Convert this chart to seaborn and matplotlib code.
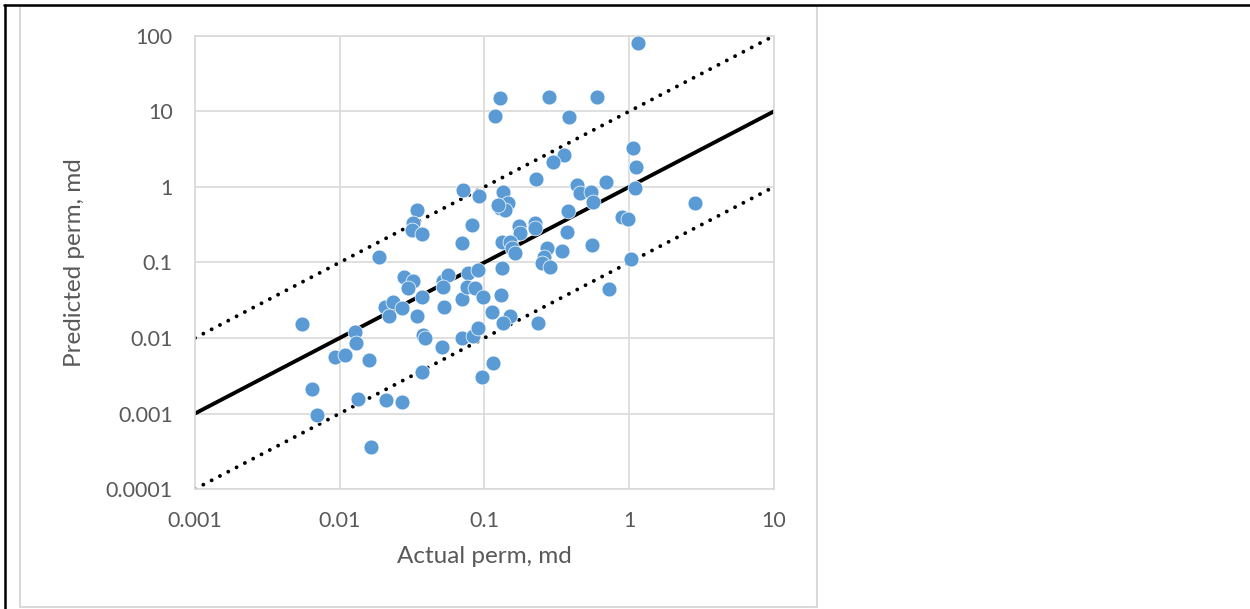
import numpy as np
import pandas as pd
import seaborn as sns
import matplotlib.pyplot as plt
from matplotlib.lines import Line2D
from matplotlib.patches import Rectangle

actual = [1.15, 0.128, 0.279, 0.60, 0.118, 0.384, 1.06, 0.354, 0.297, 1.11,
          0.227, 0.69, 0.436, 1.10, 0.071, 0.457, 0.545, 0.134, 0.092, 0.562,
          0.145, 0.128, 0.139, 0.124, 0.034, 0.378, 2.85, 0.89, 0.98, 0.082,
          0.032, 0.0316, 0.037, 0.223, 0.223, 0.173, 0.176, 0.37, 0.070, 0.132,
          0.150, 0.155, 0.163, 0.27, 0.343, 0.553, 0.26, 0.25, 0.284, 0.0187,
          1.03, 0.028, 0.032, 0.0296, 0.037, 0.0517, 0.056, 0.0517, 0.053, 0.070,
          0.077, 0.076, 0.086, 0.090, 0.098, 0.132, 0.130, 0.113, 0.150, 0.134,
          0.234, 0.724, 0.0206, 0.0233, 0.027, 0.022, 0.034, 0.0055, 0.0127, 0.013,
          0.0376, 0.039, 0.070, 0.083, 0.090, 0.051, 0.0093, 0.0109, 0.0159, 0.037,
          0.1145, 0.096, 0.0064, 0.0070, 0.0134, 0.0209, 0.0269, 0.0164]
predicted = [80.8, 15.1, 15.6, 15.6, 8.7, 8.46, 3.29, 2.65, 2.14, 1.84,
             1.28, 1.17, 1.06, 0.97, 0.91, 0.83, 0.86, 0.86, 0.76, 0.63,
             0.61, 0.53, 0.50, 0.58, 0.50, 0.48, 0.61, 0.40, 0.38, 0.31,
             0.33, 0.27, 0.24, 0.333, 0.286, 0.30, 0.246, 0.25, 0.18, 0.187,
             0.187, 0.156, 0.134, 0.156, 0.142, 0.17, 0.118, 0.0985, 0.087, 0.118,
             0.111, 0.064, 0.057, 0.046, 0.035, 0.057, 0.068, 0.047, 0.026, 0.033,
             0.073, 0.047, 0.046, 0.080, 0.035, 0.0845, 0.037, 0.022, 0.0195, 0.0158,
             0.016, 0.045, 0.026, 0.030, 0.025, 0.0195, 0.0195, 0.0153, 0.012, 0.0086,
             0.011, 0.010, 0.010, 0.0105, 0.0135, 0.0076, 0.0056, 0.006, 0.0051, 0.0035,
             0.0047, 0.0030, 0.0021, 0.00096, 0.00156, 0.0015, 0.00142, 0.00036]

# 1:1 line and factor-of-ten band
line_x = [0.001, 10]
line_equal = [0.001, 10]
line_upper = [0.01, 100]
line_lower = [0.0001, 1]

x_ticks = [0.001, 0.01, 0.1, 1, 10]
x_labels = ['0.001', '0.01', '0.1', '1', '10']
y_ticks = [0.0001, 0.001, 0.01, 0.1, 1, 10, 100]
y_labels = ['0.0001', '0.001', '0.01', '0.1', '1', '10', '100']

sns.set_style('white')
plt.rcParams['font.family'] = ['Lato', 'DejaVu Sans']

fig = plt.figure(figsize=(12.5, 6.09), dpi=100)
ax = fig.add_axes([0.156, 0.197, 0.463, 0.744])
ax.set_xscale('log')
ax.set_yscale('log')

sns.lineplot(x=line_x, y=line_upper, ax=ax, color='black', linewidth=2.8,
             linestyle=(0, (0.01, 2.4)), dash_capstyle='round', zorder=2)
sns.lineplot(x=line_x, y=line_lower, ax=ax, color='black', linewidth=2.8,
             linestyle=(0, (0.01, 2.4)), dash_capstyle='round', zorder=2)
sns.lineplot(x=line_x, y=line_equal, ax=ax, color='black', linewidth=2.8, zorder=2)
sns.scatterplot(x=actual, y=predicted, ax=ax, color='#5B9BD5', s=115,
                edgecolor='white', linewidth=0.5, zorder=3)

ax.set_xlim(0.001, 10)
ax.set_ylim(0.0001, 100)
ax.set_xticks(x_ticks)
ax.set_xticklabels(x_labels)
ax.set_yticks(y_ticks)
ax.set_yticklabels(y_labels)
ax.minorticks_off()
ax.tick_params(length=0, labelsize=15.5, labelcolor='#595959')
ax.tick_params(axis='x', pad=16)
ax.tick_params(axis='y', pad=16)
ax.grid(True, color='#D9D9D9', linewidth=1.2)
for sp in ax.spines.values():
    sp.set_color('#D9D9D9')
    sp.set_linewidth(1.2)

ax.set_xlabel('Actual perm, md', fontsize=17.5, color='#595959')
ax.set_ylabel('Predicted perm, md', fontsize=17.5, color='#595959')
ax.xaxis.set_label_coords(0.5, -0.125)
ax.yaxis.set_label_coords(-0.19, 0.5)

# chart frame and the page border
fig.patches.append(Rectangle((20 / 1250, 2 / 609), 797 / 1250, 601 / 609,
                             transform=fig.transFigure, fill=False,
                             edgecolor='#D9D9D9', linewidth=1.5))
fig.lines.append(Line2D([4 / 1250, 1], [1 - 5 / 609, 1 - 5 / 609],
                        transform=fig.transFigure, color='black', linewidth=1.8))
fig.lines.append(Line2D([5 / 1250, 5 / 1250], [0, 1 - 5 / 609],
                        transform=fig.transFigure, color='black', linewidth=1.8))

fig.savefig('out.png', dpi=100)
